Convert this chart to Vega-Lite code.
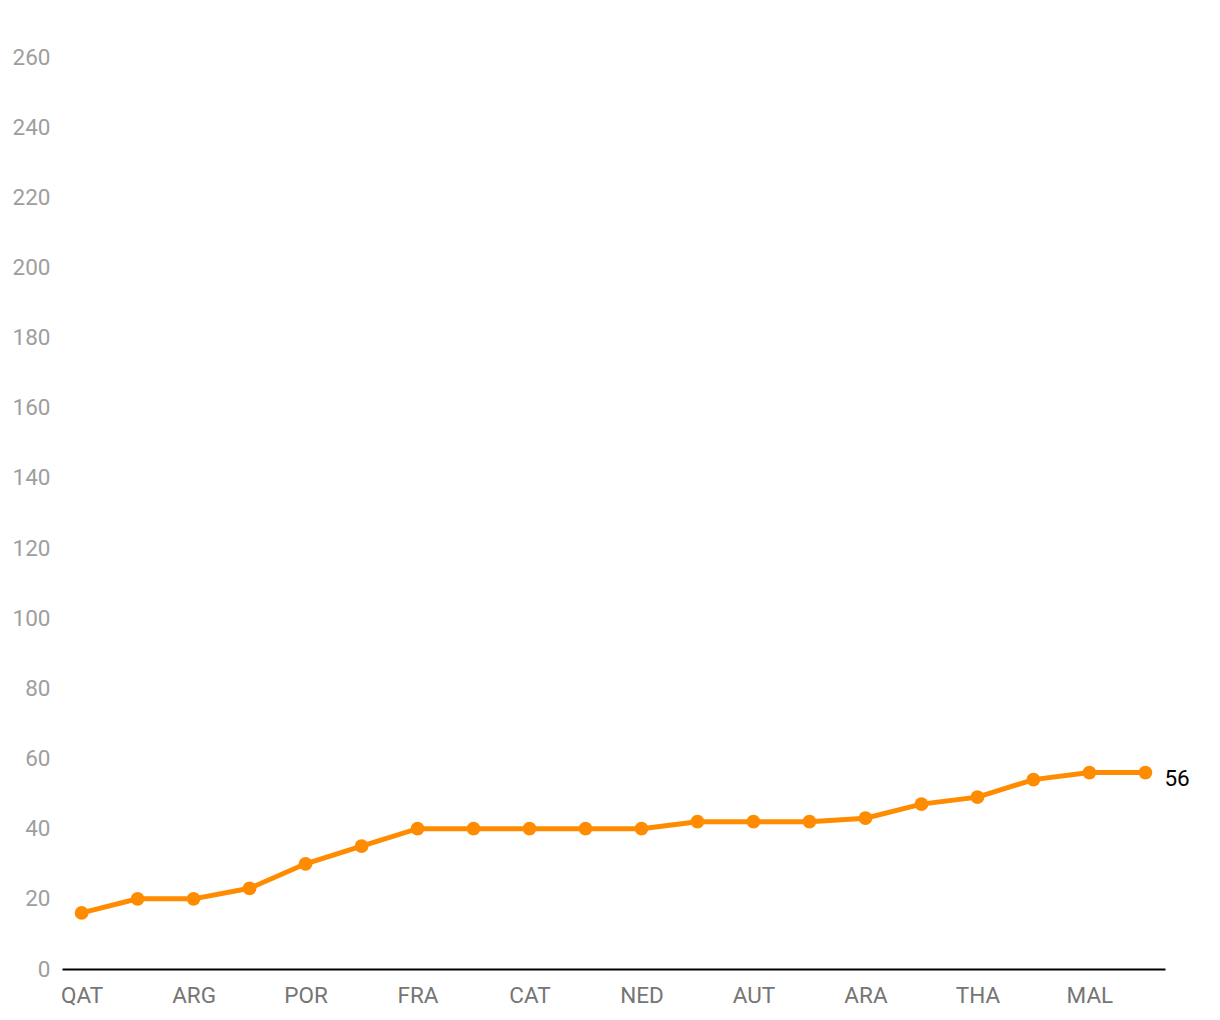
{
  "$schema": "https://vega.github.io/schema/vega-lite/v6.json",
  "autosize": "none",
  "width": 1103,
  "height": 912,
  "padding": {"left": 62, "top": 57, "right": 55, "bottom": 51},
  "background": "white",
  "config": {"view": {"stroke": null}, "font": "Roboto"},
  "data": {"values": [
    {"round": "QAT", "order": 1, "points": 16},
    {"round": "INA", "order": 2, "points": 20},
    {"round": "ARG", "order": 3, "points": 20},
    {"round": "AME", "order": 4, "points": 23},
    {"round": "POR", "order": 5, "points": 30},
    {"round": "SPA", "order": 6, "points": 35},
    {"round": "FRA", "order": 7, "points": 40},
    {"round": "ITA", "order": 8, "points": 40},
    {"round": "CAT", "order": 9, "points": 40},
    {"round": "GER", "order": 10, "points": 40},
    {"round": "NED", "order": 11, "points": 40},
    {"round": "GBR", "order": 12, "points": 42},
    {"round": "AUT", "order": 13, "points": 42},
    {"round": "RSM", "order": 14, "points": 42},
    {"round": "ARA", "order": 15, "points": 43},
    {"round": "JPN", "order": 16, "points": 47},
    {"round": "THA", "order": 17, "points": 49},
    {"round": "AUS", "order": 18, "points": 54},
    {"round": "MAL", "order": 19, "points": 56},
    {"round": "VAL", "order": 20, "points": 56}
  ]},
  "encoding": {
    "x": {
      "field": "round", "type": "ordinal", "sort": {"field": "order"},
      "scale": {"type": "point", "padding": 0.35},
      "axis": {
        "title": null, "labelAngle": 0, "ticks": false,
        "values": ["QAT", "ARG", "POR", "FRA", "CAT", "NED", "AUT", "ARA", "THA", "MAL"],
        "domainColor": "#000000", "domainWidth": 2,
        "labelColor": "#757575", "labelFontSize": 22.5, "labelPadding": 15,
        "labelFont": "Roboto", "grid": false
      }
    },
    "y": {
      "field": "points", "type": "quantitative",
      "scale": {"domain": [0, 260], "nice": false},
      "axis": {
        "title": null, "values": [0,20,40,60,80,100,120,140,160,180,200,220,240,260],
        "grid": false, "domain": false, "ticks": false,
        "labelColor": "#9e9e9e", "labelFontSize": 22.5, "labelPadding": 12,
        "labelFont": "Roboto"
      }
    }
  },
  "layer": [
    {"mark": {"type": "line", "color": "#FF8C00", "strokeWidth": 5}},
    {"mark": {"type": "circle", "color": "#FF8C00", "opacity": 1, "size": 190}},
    {
      "transform": [{"filter": "datum.order == 20"}],
      "mark": {"type": "text", "align": "left", "dx": 19, "dy": 6, "fontSize": 22.5, "color": "#000000", "font": "Roboto"},
      "encoding": {"text": {"field": "points", "type": "quantitative"}}
    }
  ]
}
